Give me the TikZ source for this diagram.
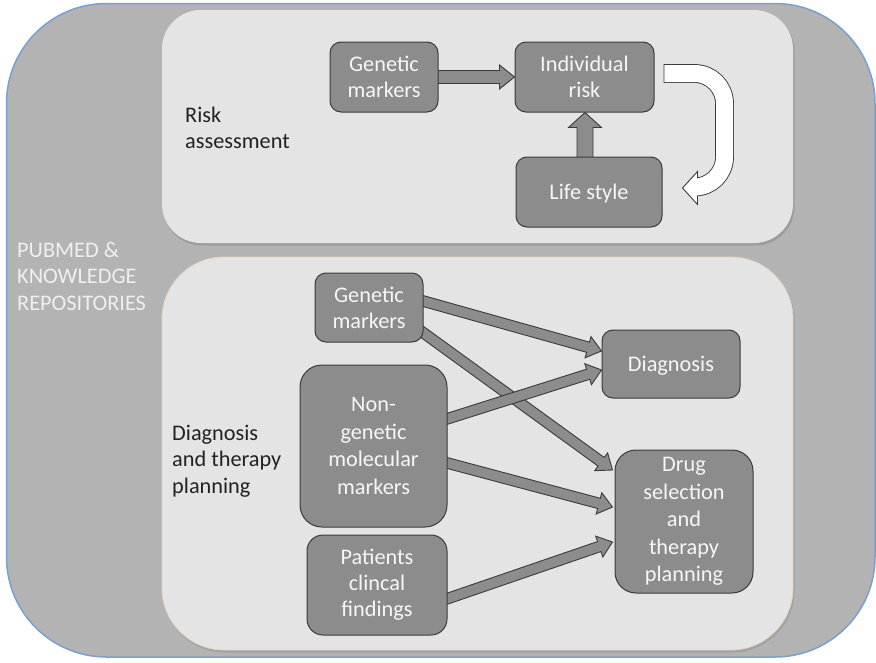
\documentclass[tikz,border=0pt]{standalone}
\usepackage{fontspec}
\setmainfont{Carlito}
\usetikzlibrary{calc}

\definecolor{outerfill}{HTML}{B3B3B3}
\definecolor{outerline}{HTML}{7B9FCF}
\definecolor{panelfill}{HTML}{E4E4E4}
\definecolor{panelshade}{HTML}{8E8E8E}
\definecolor{paneledge}{HTML}{E6D3C0}
\definecolor{boxfill}{HTML}{8C8C8C}
\definecolor{boxline}{HTML}{3A3A3A}
\definecolor{boxtext}{HTML}{F6F6F6}
\definecolor{labeltext}{HTML}{222222}
\definecolor{sidetext}{HTML}{EFEFEF}

\pgfdeclarelayer{panels}
\pgfdeclarelayer{links}
\pgfsetlayers{panels,links,main}

% outlined block arrow: #1 style, #2 start, #3 tip,
% #4 shaft half width, #5 head half width, #6 head length
\newcommand{\blockarrow}[6]{%
  \coordinate (ba-h) at ($(#3)!#6!(#2)$);
  \draw[#1] ($(#2)!#4!90:(#3)$) -- ($(ba-h)!#4!90:(#3)$) -- ($(ba-h)!#5!90:(#3)$)
    -- (#3) -- ($(ba-h)!#5!-90:(#3)$) -- ($(ba-h)!#4!-90:(#3)$)
    -- ($(#2)!#4!-90:(#3)$) -- cycle;
}

\tikzset{
  box/.style={draw=boxline, fill=boxfill, line width=1pt, text=boxtext,
    align=center, inner sep=0pt,
    font=\fontsize{22.3pt}{26pt}\selectfont},
  tallbox/.style={box, font=\fontsize{22.3pt}{27.5pt}\selectfont},
  lbl/.style={text=labeltext, align=left, inner sep=0pt, anchor=west,
    font=\fontsize{22.3pt}{26.5pt}\selectfont},
  sidelbl/.style={lbl, text=sidetext},
  flow/.style={draw=boxline, fill=boxfill, line width=0.9pt, line join=miter},
}

\begin{document}
\begin{tikzpicture}[x=1pt,y=-1pt]
\useasboundingbox (0,0) rectangle (876,662);

% ---- nodes of the risk part ----
\node[box, minimum width=108pt, minimum height=70pt, rounded corners=11pt] (gm1) at (384,77) {Genetic\\markers};
\node[box, minimum width=139pt, minimum height=70pt, rounded corners=11pt] (ir) at (584.5,77) {Individual\\risk};
\node[box, minimum width=146pt, minimum height=70pt, rounded corners=11pt, text depth=0pt] (ls) at (589,192) {Life style};

% ---- nodes of the diagnosis part ----
\node[box, minimum width=108pt, minimum height=69pt, rounded corners=11pt] (gm2) at (369,307.5) {Genetic\\markers};
\node[tallbox, minimum width=147pt, minimum height=162pt, rounded corners=22pt] (ng) at (373.5,446) {Non-\\genetic\\molecular\\markers};
\node[box, minimum width=140pt, minimum height=100pt, rounded corners=16pt] (pc) at (377,585) {Patients\\clincal\\findings};
\node[box, minimum width=138pt, minimum height=68pt, rounded corners=11pt, text depth=0pt] (dg) at (671,364) {Diagnosis};
\node[tallbox, minimum width=138pt, minimum height=143pt, rounded corners=21pt] (dr) at (684,521.5) {Drug\\selection\\and\\therapy\\planning};

% ---- labels ----
\node[lbl] (risklbl) at (185,128) {Risk\\assessment};
\node[lbl] (diaglbl) at (172,461) {Diagnosis\\and therapy\\planning};
\node[sidelbl] (sidelbl) at (17,276) {PUBMED \&\\KNOWLEDGE\\REPOSITORIES};

% ---- background panels ----
\begin{pgfonlayer}{panels}
  \draw[fill=outerfill, draw=outerline, line width=1.5pt, rounded corners=100pt]
    (6.5,3.5) rectangle (875,657);
  \fill[panelshade, opacity=0.6, rounded corners=39pt] (163,12) rectangle (794.5,245.5);
  \fill[panelfill, rounded corners=39pt] (162,10) rectangle (793,243);
  \fill[panelshade, opacity=0.45, rounded corners=62pt] (163,259) rectangle (794.5,652.5);
  \draw[fill=panelfill, draw=paneledge, line width=0.8pt, rounded corners=62pt]
    (162,257) rectangle (793,650);
\end{pgfonlayer}

% ---- connectors ----
\begin{pgfonlayer}{links}
  % risk part
  \coordinate (a1s) at ($(gm1.east)+(-4,0)$);
  \coordinate (a1t) at (ir.west);
  \blockarrow{flow}{a1s}{a1t}{6.5pt}{12pt}{15pt}
  \coordinate (a2s) at ($(ir.south |- ls.north)+(0.5,4)$);
  \coordinate (a2t) at ($(ir.south)+(0.5,0)$);
  \blockarrow{flow}{a2s}{a2t}{8pt}{16.5pt}{15pt}

  % diagnosis part
  \coordinate (b1s) at ($(gm2.east)+(-4,-7.5)$);
  \coordinate (b1t) at ($(dg.west)+(0,-13)$);
  \coordinate (b2s) at ($(gm2.east)+(-4,22.5)$);
  \coordinate (b2t) at ($(dr.west)+(-2,-51.5)$);
  \coordinate (b3s) at ($(ng.east)+(-4,-26)$);
  \coordinate (b3t) at ($(dg.west)+(0,6)$);
  \coordinate (b4s) at ($(ng.east)+(-4,16)$);
  \coordinate (b4t) at ($(dr.west)+(-2,-14.5)$);
  \coordinate (b5s) at ($(pc.east)+(-4,15)$);
  \coordinate (b5t) at ($(dr.west)+(-2,20.5)$);
  \blockarrow{flow}{b1s}{b1t}{5.3pt}{11pt}{14pt}
  \blockarrow{flow}{b2s}{b2t}{5.3pt}{11pt}{14pt}
  \blockarrow{flow}{b3s}{b3t}{5.3pt}{11pt}{14pt}
  \blockarrow{flow}{b4s}{b4t}{5.3pt}{11pt}{14pt}
  \blockarrow{flow}{b5s}{b5t}{5.3pt}{11pt}{14pt}
\end{pgfonlayer}

% ---- white feedback arrow from individual risk back to life style ----
\coordinate (ws) at ($(ir.east)+(9,-3.5)$);
\coordinate (wc1) at ($(ws)+(61,0)$);
\coordinate (wc2) at ($(wc1)+(0,113.5)$);
\coordinate (we) at ($(wc2)+(-31,0)$);
\coordinate (wt) at ($(ls.east)+(20,-4)$);
\draw[boxline, line width=18.8pt, rounded corners=30pt] (ws) -- (wc1) -- (wc2) -- (we);
\draw[fill=white, draw=boxline, line width=0.9pt, line join=miter]
  ($(wt)+(15,-16.5)$) -- (wt) -- ($(wt)+(15,16.5)$) -- cycle;
\draw[white, line width=17pt, rounded corners=30pt, shorten <=0.9pt] (ws) -- (wc1) -- (wc2) -- (we);
\end{tikzpicture}
\end{document}
